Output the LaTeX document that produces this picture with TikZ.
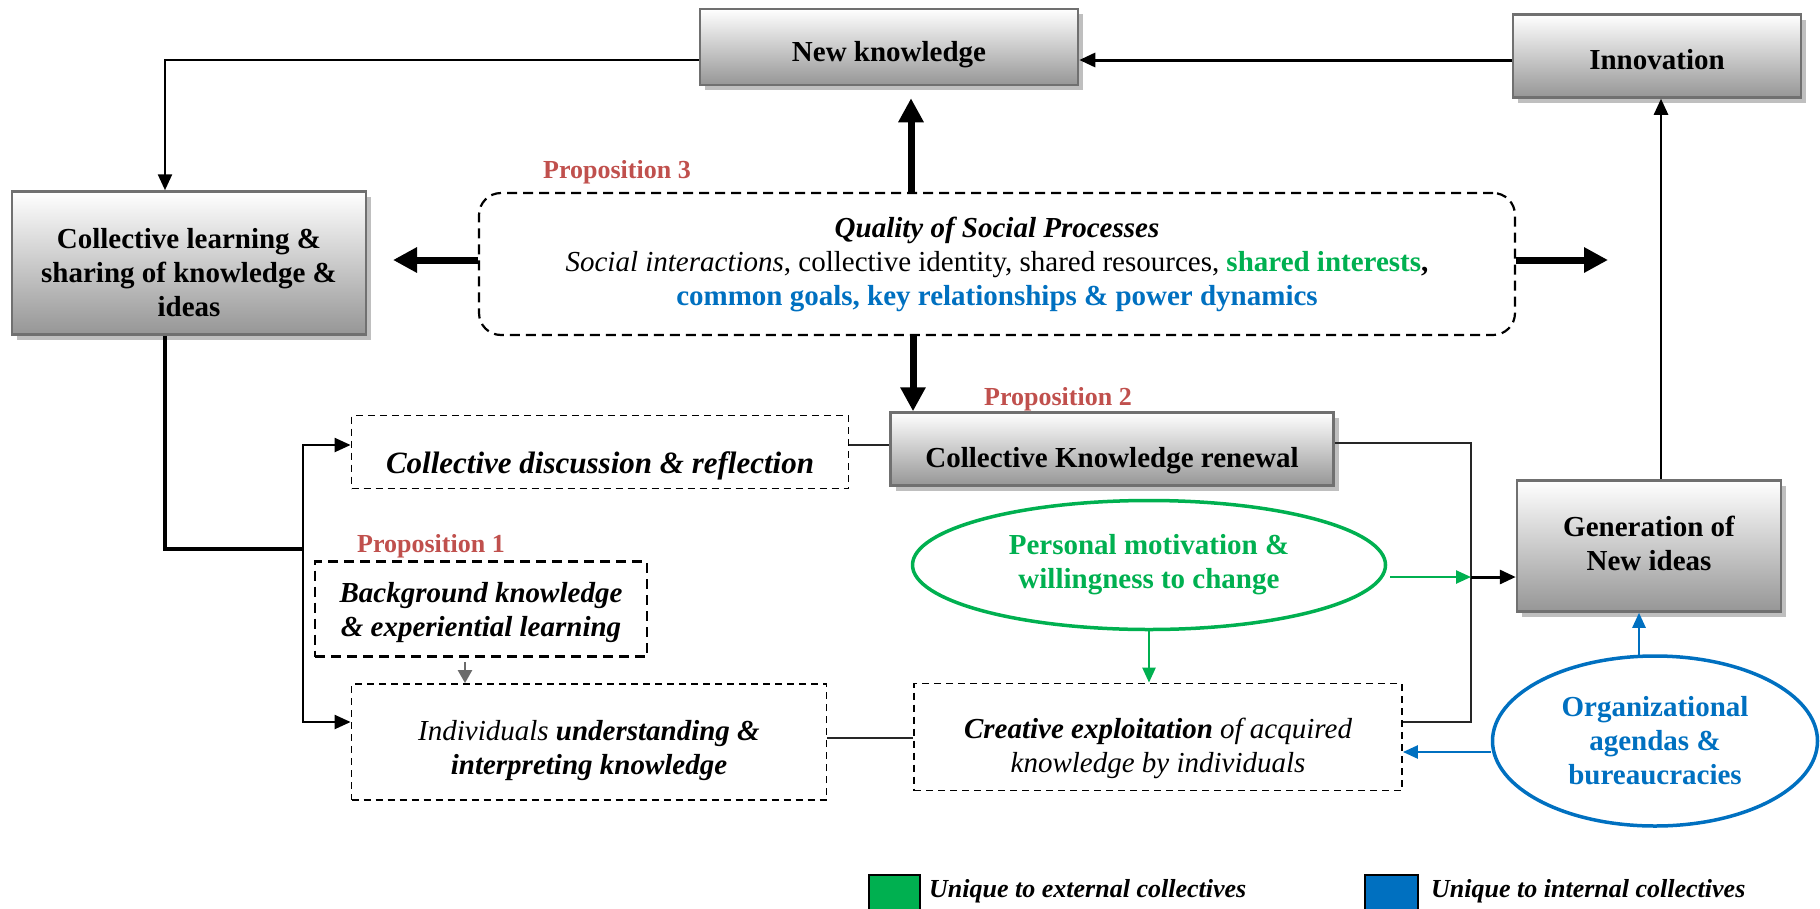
\documentclass[tikz,border=0pt]{standalone}
\usepackage{fontspec}
\setmainfont{Liberation Serif}
\usetikzlibrary{arrows.meta,shadows,shapes.geometric,calc}
\definecolor{pgreen}{RGB}{0,176,80}
\definecolor{pblue}{RGB}{0,112,192}
\definecolor{pred}{RGB}{192,80,77}
\definecolor{bgray}{RGB}{112,112,112}
\definecolor{botgray}{RGB}{150,150,150}
\newcommand\bxfont{\fontsize{29}{34}\selectfont}
\newcommand\bigbxfont{\fontsize{31}{36}\selectfont}
\newcommand\prfont{\fontsize{26}{30}\selectfont}
\begin{document}
\begin{tikzpicture}[x=1pt,y=-1pt,
  gbox/.style={draw=bgray, line width=2.5pt, top color=white, bottom color=botgray,
    drop shadow={shadow xshift=5pt, shadow yshift=-5pt, fill=black!25, opacity=1},
    inner sep=0pt},
  btxt/.style={align=center, font=\bxfont\bfseries, inner sep=0pt},
  itxt/.style={align=center, font=\bxfont\itshape, inner sep=0pt},
  qbox/.style={draw, line width=2.2pt, dash pattern=on 10pt off 6pt, rounded corners=22pt,
    align=center, font=\bxfont, inner sep=0pt},
  dbox/.style={draw, line width=1.8pt, dash pattern=on 7pt off 5pt, inner sep=0pt},
  prop/.style={text=pred, font=\prfont\bfseries, inner sep=0pt},
  ell/.style={ellipse, line width=3.5pt, align=center, font=\bxfont\bfseries, inner sep=0pt},
  bigarr/.style={line width=7pt, -{Triangle[length=24pt,width=24pt]}},
  medarr/.style={line width=2.5pt, -{Triangle[length=16pt,width=14pt]}},
  garr/.style={draw=pgreen, line width=2.5pt, -{Triangle[length=15pt,width=13pt]}},
  barr/.style={draw=pblue, line width=2.5pt, -{Triangle[length=15pt,width=13pt]}},
  grarr/.style={draw=black!58, line width=2.5pt, -{Triangle[length=13pt,width=14pt]}},
  thinln/.style={line width=1.6pt, draw=black!85},
]
\useasboundingbox (0,0) rectangle (1820,908);

% gray boxes
\node[gbox, minimum width=378, minimum height=76] (newk) at (889,47) {};
\node[btxt] (newkT) at ($(newk)+(0,8)$) {New knowledge};
\node[gbox, minimum width=288, minimum height=83] (innov) at (1657,56) {};
\node[btxt] (innovT) at ($(innov)+(0,4)$) {Innovation};
\node[gbox, minimum width=354, minimum height=143] (colL) at (189,263) {};
\node[btxt] (colLT) at ($(colL)+(0,10)$) {Collective learning \&\\ sharing of knowledge \&\\ ideas};
\node[gbox, minimum width=443, minimum height=73] (renew) at (1112,449) {};
\node[btxt] (renewT) at ($(renew)+(0,12)$) {Collective Knowledge renewal};
\node[gbox, minimum width=264, minimum height=131] (gen) at (1649,546) {};
\node[btxt] (genT) at ($(gen)+(0,-3)$) {Generation of\\ New ideas};

% quality box
\node[qbox, minimum width=1036, minimum height=142] (qual) at (997,264)
  {\textbf{\textit{Quality of Social Processes}}\\
   \textit{Social interactions}, collective identity, shared resources, \textcolor{pgreen}{\textbf{shared interests}}\textbf{,}\\
   \textcolor{pblue}{\textbf{common goals, key relationships \& power dynamics}}};

% dashed boxes
\node[dbox, minimum width=497, minimum height=73] (disc) at (600,452) {};
\node[itxt, font=\bigbxfont\bfseries\itshape] (discT) at ($(disc)+(0,14)$) {Collective discussion \& reflection};
\node[dbox, line width=2.6pt, dash pattern=on 10pt off 6pt, minimum width=332, minimum height=95] (bg) at (481,609) {};
\node[itxt, font=\bxfont\bfseries\itshape] (bgT) at ($(bg)+(0,4)$) {Background knowledge\\ \& experiential learning};
\node[dbox, minimum width=475, minimum height=116] (indiv) at (589,742) {};
\node[itxt] (indivT) at ($(indiv)+(0,9)$) {Individuals \textbf{understanding \&}\\ \textbf{interpreting knowledge}};
\node[dbox, minimum width=488, minimum height=107] (creat) at (1158,737) {};
\node[itxt] (creatT) at ($(creat)+(0,11)$) {\textbf{Creative exploitation} of acquired\\ knowledge by individuals};

% ellipses
\node[ell, draw=pgreen, text=pgreen, minimum width=473, minimum height=129] (pers) at (1149,565) {Personal motivation \&\\ willingness to change};
\node[ell, draw=pblue, text=pblue, minimum width=325, minimum height=170] (org) at (1655,741) {Organizational\\ agendas \&\\ bureaucracies};

% propositions
\node[prop] (p3) at (617,172) {Proposition 3};
\node[prop] (p2) at (1058,399) {Proposition 2};
\node[prop] (p1) at (431,546) {Proposition 1};

% coordinates
\coordinate (aL) at (393,260);
\coordinate (aR) at (1608,260);
\coordinate (jn) at (303,549);
\coordinate (rj) at (1471,577);
\coordinate (qn) at ($(qual.north)+(-86,0)$);
\coordinate (nks) at ($(newk.south)+(22,12)$);
\coordinate (qs) at ($(qual.south)+(-84,0)$);
\coordinate (bgs) at ($(bg.south)+(-16,4)$);
\coordinate (orn) at ($(org.north)+(-16,1)$);
\coordinate (orw) at ($(org.west)+(0,11)$);
\coordinate (dce) at ($(disc.east)+(0,-7)$);
\coordinate (ine) at ($(indiv.east)+(0,-4)$);

% connectors
\draw[medarr] ($(newk.west)+(0,13)$) -| ($(colL.north)+(-24,0)$);
\draw[medarr, line width=3pt] ($(innov.west)+(0,4)$) -- ($(newk.east)+(0,13)$);
\draw[bigarr] (qn) -- (nks);
\draw[bigarr] ($(qual.west)+(0,-4)$) -- (aL);
\draw[bigarr] ($(qual.east)+(0,-4)$) -- (aR);
\draw[bigarr] (qs) -- (qs |- renew.north);

\draw[line width=3.5pt] ($(colL.south)+(-24,0)$) |- (jn);
\draw[medarr, line width=2.2pt] (jn) |- ($(disc.west)+(0,-7)$);
\draw[medarr, line width=2.2pt] (jn) |- ($(indiv.west)+(0,-20)$);
\draw[grarr] (bgs) -- (bgs |- indiv.north);

\draw[thinln] (ine) -- (ine -| creat.west);
\draw[thinln] (dce) -- (dce -| renew.west);
\draw[thinln] ($(renew.east)+(0,-6)$) -| (rj) |- ($(creat.east)+(0,-15)$);

\draw[garr] ($(pers.east)+(3,12)$) -- (rj);
\draw[medarr, line width=3pt] (rj) -- (rj -| gen.west);
\draw[medarr] ($(gen.north)+(12,0)$) -- ($(innov.south)+(4,0)$);
\draw[garr] (pers.south) -- (pers.south |- creat.north);
\draw[barr] (orn) -- (orn |- gen.south);
\draw[barr] (orw) -- (orw -| creat.east);

% legend
\node[draw, line width=1.5pt, fill=pgreen, minimum width=51, minimum height=44, inner sep=0pt, anchor=north west] (lgg) at (868,874) {};
\node[anchor=west, font=\prfont\bfseries\itshape, inner sep=0pt] (lggt) at (929,891) {Unique to external collectives};
\node[draw, line width=1.5pt, fill=pblue, minimum width=53, minimum height=44, inner sep=0pt, anchor=north west] (lgb) at (1364,874) {};
\node[anchor=west, font=\prfont\bfseries\itshape, inner sep=0pt] (lgbt) at (1431,891) {Unique to internal collectives};
\end{tikzpicture}
\end{document}
